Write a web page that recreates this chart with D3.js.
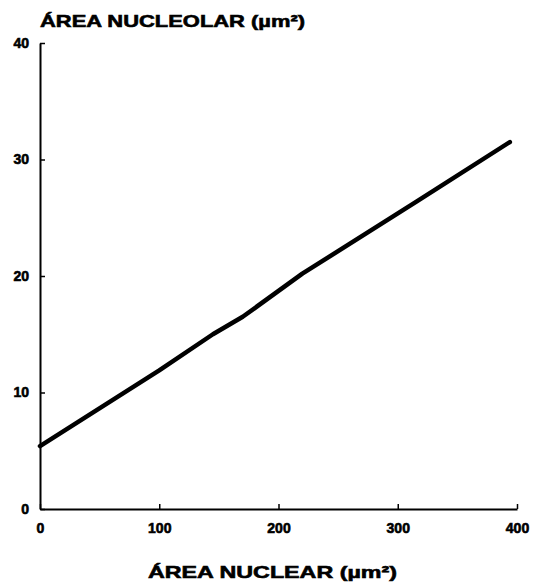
<!DOCTYPE html>
<html>
<head>
<meta charset="utf-8">
<script src="https://cdn.jsdelivr.net/npm/d3@7"></script>
<style>
  body { margin: 0; background: #fff; }
  text { font-family: "Liberation Sans", Arial, sans-serif; font-weight: bold; fill: #000; stroke: #000; stroke-width: 0.6px; }
</style>
</head>
<body>
<div id="chart"></div>
<script>
// data
const nuclearArea = [0, 100, 145, 170, 220, 316, 394]
const nucleolarArea = [5.4, 11.9, 15.0, 16.5, 20.2, 26.4, 31.5]
const xTicks = [0, 100, 200, 300, 400]
const yTicks = [0, 10, 20, 30, 40]

const W = 536, H = 587
const margin = {top: 43, right: 19, bottom: 78, left: 40}
const width = W - margin.left - margin.right
const height = H - margin.top - margin.bottom

const svg = d3.select("#chart")
    .append("svg")
    .attr("width", W)
    .attr("height", H)
  .append("g")
    .attr("transform", `translate(${margin.left},${margin.top})`)

const x = d3.scaleLinear().domain([0, 400]).range([0, width])
const y = d3.scaleLinear().domain([0, 40]).range([height, 0])

// x axis, ticks point up into the plot
const xAxis = svg.append("g")
    .attr("transform", `translate(0,${height})`)
    .call(d3.axisBottom(x).tickValues(xTicks).tickSizeInner(-5).tickSizeOuter(0).tickPadding(14))
xAxis.select(".domain").attr("stroke-width", 2)
xAxis.selectAll(".tick line").attr("stroke-width", 1.5)
xAxis.selectAll("text").attr("font-size", 14).attr("font-family", null)

// y axis, ticks point right
const yAxis = svg.append("g")
    .call(d3.axisLeft(y).tickValues(yTicks).tickSizeInner(-5).tickSizeOuter(0).tickPadding(11))
yAxis.select(".domain").attr("stroke-width", 2)
yAxis.selectAll(".tick line").attr("stroke-width", 1.5)
yAxis.selectAll("text").attr("font-size", 14).attr("font-family", null)

// the regression line
const pts = nuclearArea.map((v, i) => [v, nucleolarArea[i]])
svg.append("path")
    .datum(pts)
    .attr("fill", "none")
    .attr("stroke", "#000")
    .attr("stroke-width", 4.5)
    .attr("stroke-linecap", "round")
    .attr("stroke-linejoin", "round")
    .attr("d", d3.line().x(d => x(d[0])).y(d => y(d[1])))

// titles
svg.append("text")
    .attr("x", 0)
    .attr("y", -16)
    .attr("font-size", 17)
    .attr("textLength", 265)
    .attr("lengthAdjust", "spacingAndGlyphs")
    .text("ÁREA NUCLEOLAR (µm²)")

svg.append("text")
    .attr("x", 108)
    .attr("y", height + 69)
    .attr("font-size", 17)
    .attr("textLength", 249)
    .attr("lengthAdjust", "spacingAndGlyphs")
    .text("ÁREA NUCLEAR (µm²)")
</script>
</body>
</html>
